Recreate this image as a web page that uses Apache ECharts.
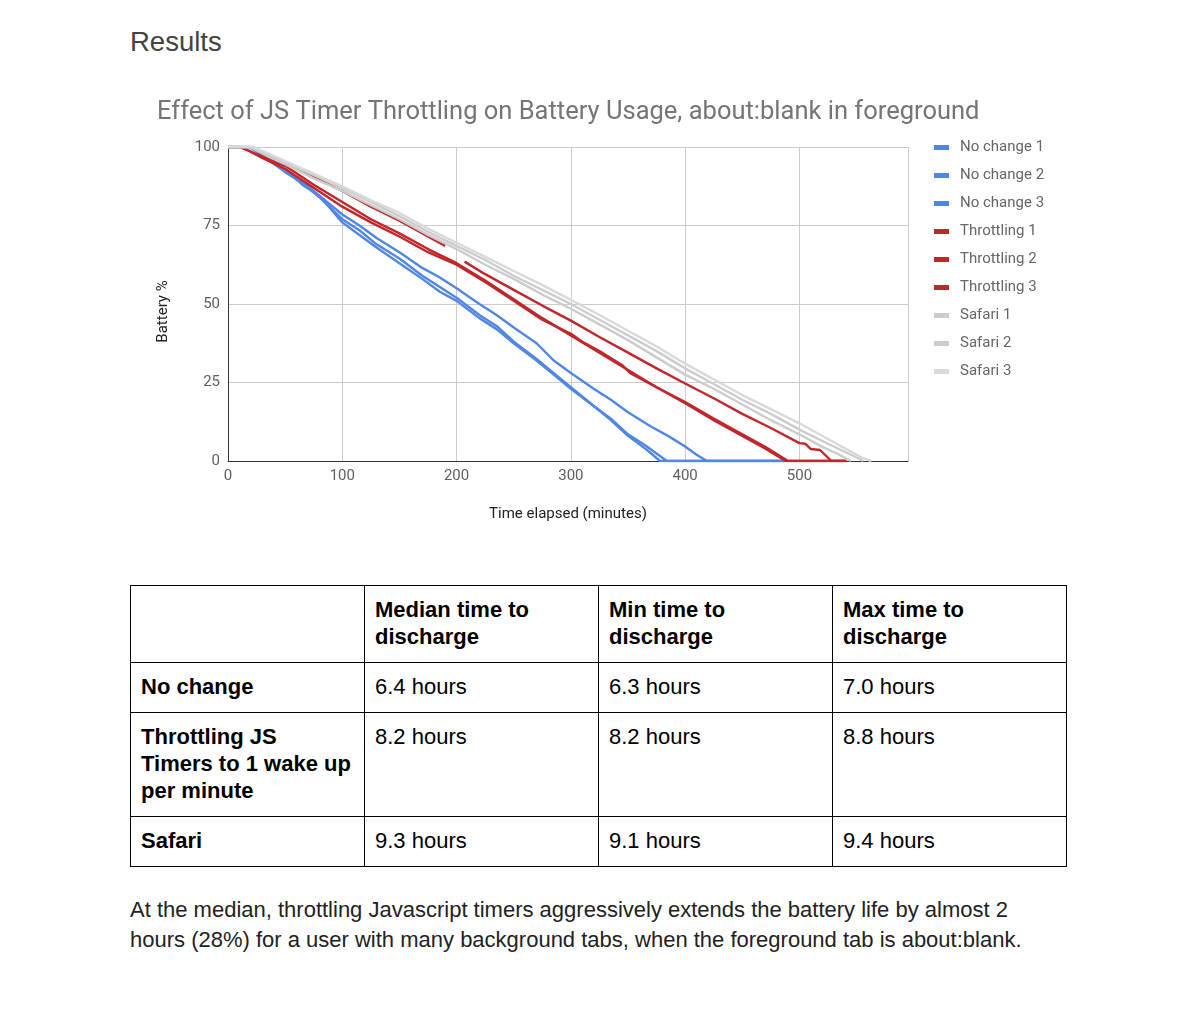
<!DOCTYPE html>
<html>
<head>
<meta charset="utf-8">
<title>Results</title>
<script src="https://cdn.jsdelivr.net/npm/echarts@6/dist/echarts.min.js"></script>
<style>
  html, body { margin: 0; padding: 0; background: #fff; }
  body { width: 1200px; height: 1009px; position: relative; overflow: hidden; font-family: "Liberation Sans", Arial, sans-serif; }
  #heading { position: absolute; left: 130px; top: 26px; font-size: 27.5px; line-height: 32px; color: #434343; }
  #main { position: absolute; left: 0; top: 0; width: 1200px; height: 560px; }
  #results { position: absolute; left: 130px; top: 585px; border-collapse: collapse; table-layout: fixed; width: 937px; font-size: 22px; line-height: 27px; color: #000; }
  #results td { border: 1px solid #000; vertical-align: top; padding: 10px 10px 0 10px; width: 213px; }
  #results .b { font-weight: bold; }
  #note { position: absolute; left: 130px; top: 895px; font-size: 22px; line-height: 30px; color: #222; }
</style>
</head>
<body>
<div id="heading">Results</div>
<div id="main"></div>

<table id="results">
  <tr style="height:77px">
    <td></td>
    <td class="b">Median time to discharge</td>
    <td class="b">Min time to discharge</td>
    <td class="b">Max time to discharge</td>
  </tr>
  <tr style="height:50px">
    <td class="b">No change</td><td>6.4 hours</td><td>6.3 hours</td><td>7.0 hours</td>
  </tr>
  <tr style="height:104px">
    <td class="b">Throttling JS Timers to 1 wake up per minute</td><td>8.2 hours</td><td>8.2 hours</td><td>8.8 hours</td>
  </tr>
  <tr style="height:50px">
    <td class="b">Safari</td><td>9.3 hours</td><td>9.1 hours</td><td>9.4 hours</td>
  </tr>
</table>

<div id="note">At the median, throttling Javascript timers aggressively extends the battery life by almost 2<br>hours (28%) for a user with many background tabs, when the foreground tab is about:blank.</div>

<script>
// 电量数据 [分钟, 电量%]
var noChange1 = [[0,100],[22,100],[35,96],[50,92],[65,88.5],[80,84],[100,77],[115,73.5],[130,69],[150,64.5],[170,59],[185,55.5],[200,52],[220,46.5],[235,43],[250,38],[270,32.5],[285,28],[300,23.5],[320,17.5],[335,13],[350,8],[365,4],[378,0],[487,0]];
var noChange2 = [[0,100],[20,100],[35,96.5],[50,93],[65,88],[80,84.5],[100,76],[115,72],[130,68],[150,63],[170,58],[185,54],[200,51],[220,45.5],[235,42],[250,37.5],[270,32],[285,27.5],[300,23],[320,17.5],[335,13.5],[350,8.5],[365,5],[384,0],[487,0]];
var noChange3 = [[0,100],[18,100],[35,96.5],[50,93],[65,89],[80,84.5],[100,78.5],[115,75],[130,71],[150,66.5],[170,61.5],[185,58.5],[200,55],[220,50],[235,46.5],[250,42.5],[270,37.5],[285,32],[300,28],[320,23],[335,19.5],[350,15.5],[370,11],[385,8],[400,4.6],[410,2],[419,0],[487,0]];

var throttling1 = [[0,100],[10,100],[30,97],[50,94],[75,88],[100,82.5],[125,77],[150,72.5],[175,67.5],[200,63],[225,57.5],[250,51.5],[275,45.5],[300,40],[325,34.5],[350,29],[375,23.5],[400,18.4],[425,13],[450,8],[470,4],[488,0],[541,0]];
var throttling2 = [[0,100],[12,100],[30,96.5],[50,93],[75,87],[100,81],[125,76],[150,71.5],[175,66.5],[200,62.5],[225,57],[250,51],[275,45],[300,40.5],[310,38],[325,35],[345,30.5],[352,28],[375,23.5],[400,18.8],[425,13.5],[450,8.5],[470,4.5],[490,0],[541,0]];
var throttling3 = [[45,95.5],[60,93],[75,90.5],[100,86],[125,81],[150,76.5],[175,71.5],[190,68.5],[200,null],[207,63.5],[225,59.5],[250,54.5],[275,49.5],[300,44.7],[325,39.5],[350,34.5],[375,29.5],[400,24.7],[425,20],[450,15],[475,10.5],[500,5.7],[505,5.5],[510,3.8],[518,3.5],[528,0],[541,0]];

var safari1 = [[0,100],[18,100],[35,97.5],[50,95],[75,91],[100,87],[125,82.5],[150,78],[175,73],[200,68.5],[225,64],[250,59],[275,54.5],[300,50],[325,45],[350,40],[375,35],[400,29.5],[425,24.5],[450,19.5],[475,15],[500,10],[525,5.5],[545,2],[556,0]];
var safari2 = [[0,100],[20,100],[35,97],[50,94.5],[75,90],[100,86],[125,81.5],[150,77],[175,72],[200,67.5],[225,62.5],[250,58],[275,53],[300,48.5],[325,43.5],[350,38.5],[375,33],[400,27.5],[425,23],[450,18],[475,13],[500,8.5],[520,4.5],[535,2],[545,0]];
var safari3 = [[0,100],[22,100],[35,98],[50,95.5],[75,91.5],[100,87.5],[125,83],[150,79],[175,74],[200,69.5],[225,65],[250,60.5],[275,56],[300,51.3],[325,46.5],[350,41.5],[375,36.5],[400,31],[425,26],[450,21],[475,16.5],[500,12],[525,7],[545,3],[555,1],[563,0]];

var seriesNames = ['No change 1','No change 2','No change 3','Throttling 1','Throttling 2','Throttling 3','Safari 1','Safari 2','Safari 3'];
var seriesData = [noChange1, noChange2, noChange3, throttling1, throttling2, throttling3, safari1, safari2, safari3];
var seriesColors = ['#5086e6','#5086e6','#5086e6','#c0262a','#c0262a','#c0262a','#cccccc','#cccccc','#d9d9d9'];

var xTicks = [0, 100, 200, 300, 400, 500];
var yTicks = [0, 25, 50, 75, 100];

var series = [];
for (var i = 0; i < seriesNames.length; i++) {
  series.push({
    name: seriesNames[i],
    type: 'line',
    data: seriesData[i],
    showSymbol: false,
    symbol: 'none',
    connectNulls: false,
    lineStyle: { width: 2.4, color: seriesColors[i] },
    itemStyle: { color: seriesColors[i] },
    emphasis: { disabled: true },
    animation: false
  });
}

var myChart = echarts.init(document.getElementById('main'));
var option = {
  animation: false,
  textStyle: { fontFamily: 'Roboto' },
  title: {
    text: 'Effect of JS Timer Throttling on Battery Usage, about:blank in foreground',
    left: 157,
    top: 100,
    padding: 0,
    textStyle: { fontFamily: 'Roboto', fontSize: 25.5, fontWeight: 'normal', color: '#757575' }
  },
  legend: {
    orient: 'vertical',
    left: 934,
    top: 140,
    padding: 0,
    itemGap: 13,
    itemWidth: 15,
    itemHeight: 5,
    icon: 'rect',
    data: seriesNames,
    textStyle: { fontFamily: 'Roboto', fontSize: 15, color: '#666', lineHeight: 15, padding: [0, 0, 0, 6] }
  },
  grid: { left: 228, right: 292, top: 147, bottom: 99, containLabel: false },
  xAxis: {
    type: 'value',
    min: 0,
    max: 595,
    interval: 100,
    name: 'Time elapsed (minutes)',
    nameLocation: 'middle',
    nameGap: 46,
    nameTextStyle: { fontFamily: 'Roboto', fontSize: 15, color: '#222' },
    axisLine: { show: true, lineStyle: { color: '#333', width: 1 } },
    axisTick: { show: false },
    axisLabel: {
      color: '#5f5f5f', fontSize: 15, margin: 8, showMaxLabel: false,
      formatter: function (v) { return xTicks.indexOf(v) >= 0 ? String(v) : ''; }
    },
    splitLine: { show: true, lineStyle: { color: '#cccccc', width: 1 } }
  },
  yAxis: {
    type: 'value',
    min: 0,
    max: 100,
    interval: 25,
    name: 'Battery %',
    nameLocation: 'middle',
    nameGap: 57,
    nameTextStyle: { fontFamily: 'Roboto', fontSize: 15, color: '#222', padding: [0, 15, 0, 0] },
    axisLine: { show: true, lineStyle: { color: '#333', width: 1 } },
    axisTick: { show: false },
    axisLabel: {
      color: '#5f5f5f', fontSize: 15, margin: 8,
      formatter: function (v) { return yTicks.indexOf(v) >= 0 ? String(v) : ''; }
    },
    splitLine: { show: true, lineStyle: { color: '#cccccc', width: 1 } }
  },
  series: series
};
myChart.setOption(option);
</script>
</body>
</html>
